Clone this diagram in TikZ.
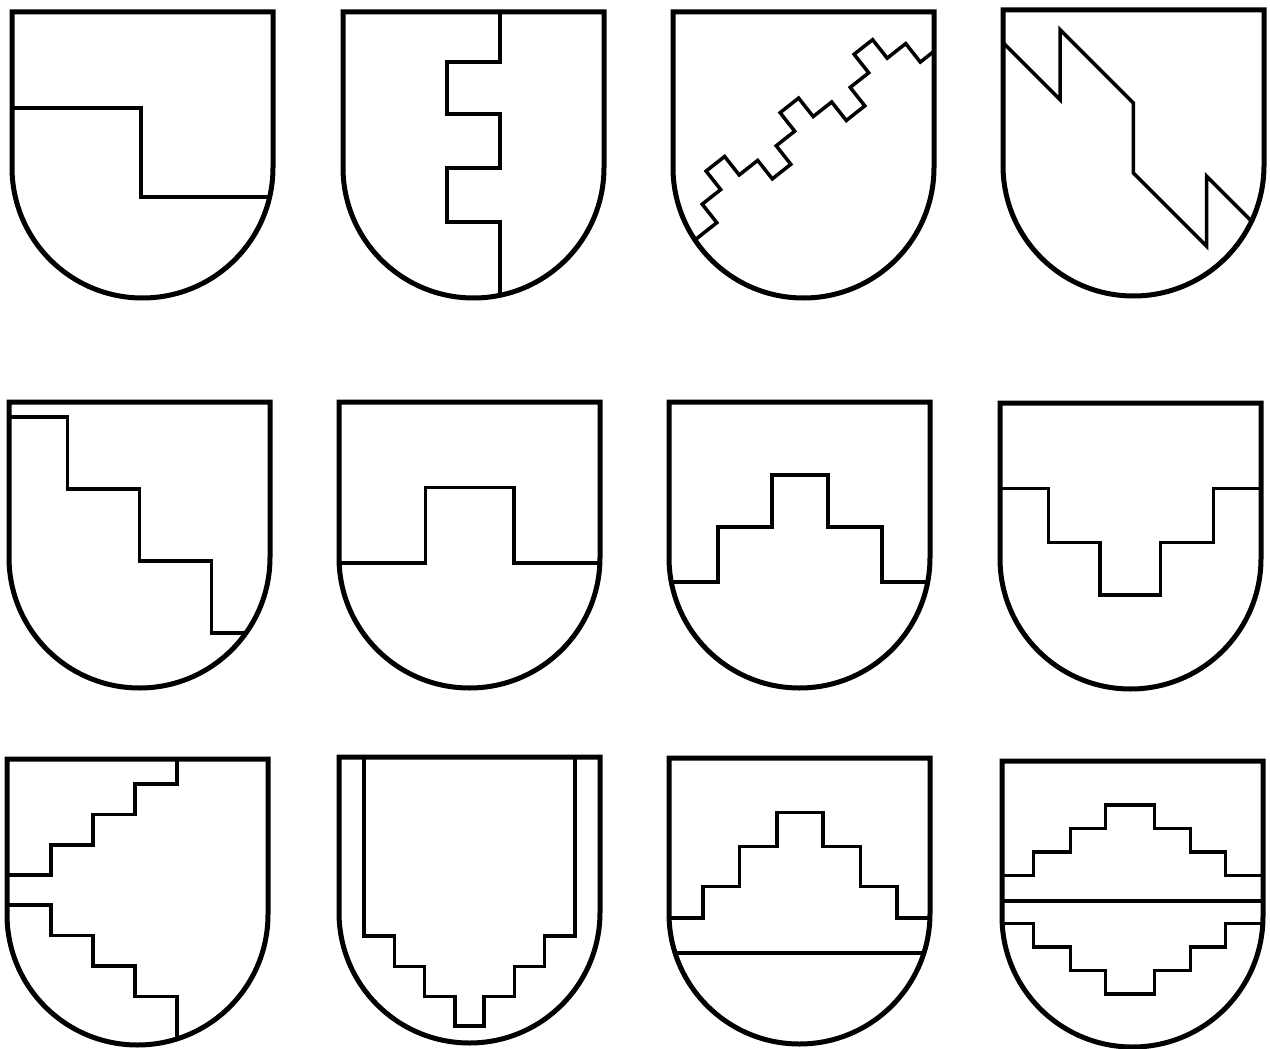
\documentclass[tikz,border=0pt]{standalone}
\begin{document}
\begin{tikzpicture}[x=1pt,y=-1pt,
  outline/.style={line width=5pt,line join=miter,black},
  inner/.style={line width=3.5pt,line join=miter,black}]
\newcommand\shield[3]{%
  \begin{scope}[shift={(#1,#2)}]
    \begin{scope}
      \clip (0,155.5) -- (0,0) -- (261,0) -- (261,155.5) .. controls (261,227.6) and (202.6,286) .. (130.5,286) .. controls (58.4,286) and (0,227.6) .. (0,155.5) -- cycle;
      #3
    \end{scope}
    \draw[outline] (0,155.5) -- (0,0) -- (261,0) -- (261,155.5) .. controls (261,227.6) and (202.6,286) .. (130.5,286) .. controls (58.4,286) and (0,227.6) .. (0,155.5) -- cycle;
  \end{scope}}
\fill[white] (0,0) rectangle (1270,1049);
\useasboundingbox (0,0) rectangle (1270,1049);
% Row 1
\shield{12}{12}{\draw[inner] (-10,96) -- (129,96) -- (129,185) -- (280,185);}
\shield{343}{12}{\draw[inner] (157,-10) -- (157,50) -- (104,50) -- (104,102) -- (157,102) -- (157,156) -- (104,156) -- (104,210) -- (157,210) -- (157,300);}
\shield{673}{12}{\draw[inner] (12.35,235.5) -- ++(31.45,-24.82)
   -- ++(-14.6,-18.5) -- ++(18.5,-14.6) -- ++(-14.6,-18.5) -- ++(18.5,-14.6) -- ++(14.6,18.5) -- ++(18.5,-14.6) -- ++(14.6,18.5)
   -- ++(18.5,-14.6) -- ++(-14.6,-18.5) -- ++(18.5,-14.6) -- ++(-14.6,-18.5) -- ++(18.5,-14.6) -- ++(14.6,18.5) -- ++(18.5,-14.6) -- ++(14.6,18.5)
   -- ++(18.5,-14.6) -- ++(-14.6,-18.5) -- ++(18.5,-14.6) -- ++(-14.6,-18.5) -- ++(18.5,-14.6) -- ++(14.6,18.5) -- ++(18.5,-14.6) -- ++(14.6,18.5)
   -- ++(27.75,-21.9);}
\shield{1003}{10}{\draw[inner] (-10,22.7) -- (57,89.7) -- (57,19.7) -- (130.3,93) -- (130.3,163) -- (203.6,236.3) -- (203.6,166.3) -- (280,242.7);}
% Row 2
\shield{9}{402}{\draw[inner] (-10,15) -- (58.5,15) -- (58.5,87) -- (130.5,87) -- (130.5,159) -- (202.5,159) -- (202.5,231) -- (280,231);}
\shield{339}{402}{\draw[inner] (-10,161) -- (86.5,161) -- (86.5,85.5) -- (175,85.5) -- (175,161) -- (280,161);}
\shield{669}{402}{\draw[inner] (-10,180) -- (49,180) -- (49,125) -- (103,125) -- (103,73) -- (159,73) -- (159,125) -- (213,125) -- (213,180) -- (280,180);}
\shield{1000}{403}{\draw[inner] (-10,85.3) -- (48.3,85.3) -- (48.3,139.7) -- (100,139.7) -- (100,192) -- (160.7,192) -- (160.7,139.7) -- (213.3,139.7) -- (213.3,85.3) -- (280,85.3);}
% Row 3
\shield{7}{759}{\draw[inner] (170,-10) -- (170,25) -- (128,25) -- (128,55.5) -- (86,55.5) -- (86,86) -- (44,86) -- (44,116) -- (-10,116);
  \draw[inner] (-10,146) -- (44,146) -- (44,176.5) -- (86,176.5) -- (86,207) -- (128,207) -- (128,237.5) -- (170,237.5) -- (170,300);}
\shield{339}{757}{\draw[inner] (25,-10) -- (25,179) -- (55.5,179) -- (55.5,209.5) -- (85.5,209.5) -- (85.5,239.5) -- (116,239.5) -- (116,269) -- (145,269) -- (145,239.5) -- (175.5,239.5) -- (175.5,209.5) -- (205.5,209.5) -- (205.5,179) -- (236,179) -- (236,-10);}
\shield{669}{758}{\draw[inner] (-10,160) -- (34,160) -- (34,128.5) -- (70.5,128.5) -- (70.5,88.5) -- (108,88.5) -- (108,54.5) -- (154,54.5) -- (154,88.5) -- (191.5,88.5) -- (191.5,128.5) -- (228,128.5) -- (228,160) -- (280,160);
  \draw[inner] (-10,195) -- (280,195);}
\shield{1002}{761}{\draw[inner] (-10,114.5) -- (31.6,114.5) -- (31.6,91) -- (68.3,91) -- (68.3,67.5) -- (103.3,67.5) -- (103.3,44) -- (152.3,44) -- (152.3,67.5) -- (188.3,67.5) -- (188.3,91) -- (223.3,91) -- (223.3,114.5) -- (280,114.5);
  \draw[inner] (-10,140) -- (280,140);
  \draw[inner] (-10,162.5) -- (31.6,162.5) -- (31.6,186) -- (68.3,186) -- (68.3,209.5) -- (103.3,209.5) -- (103.3,233) -- (152.3,233) -- (152.3,209.5) -- (188.3,209.5) -- (188.3,186) -- (223.3,186) -- (223.3,162.5) -- (280,162.5);}
\end{tikzpicture}
\end{document}
